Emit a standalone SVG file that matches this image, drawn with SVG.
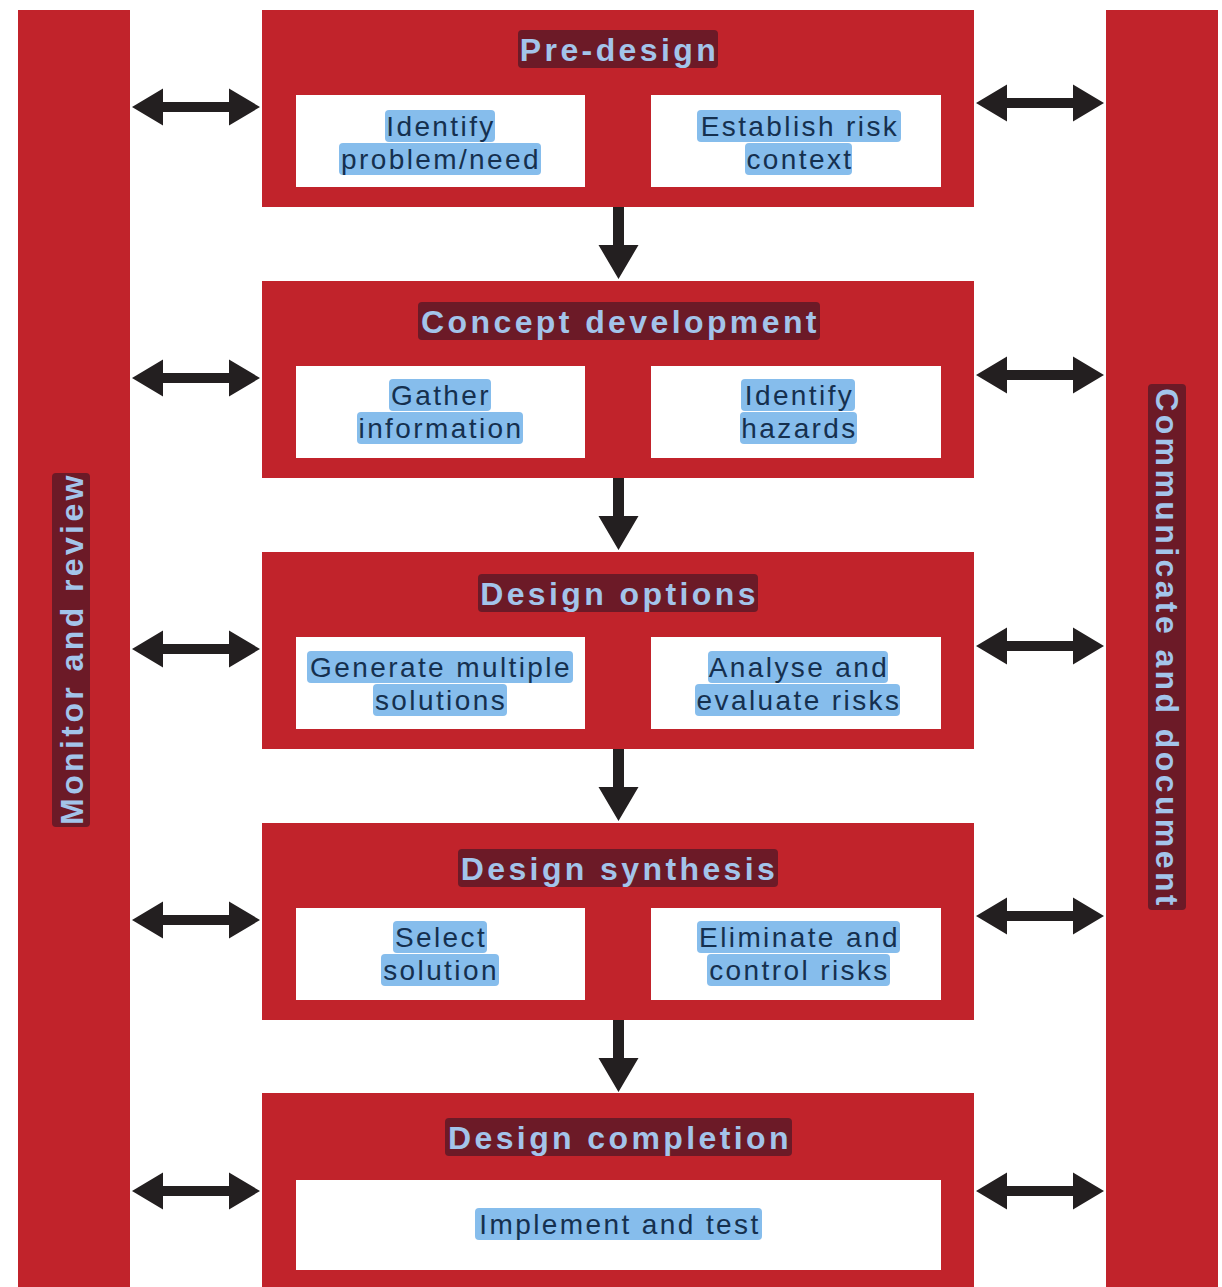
<svg xmlns="http://www.w3.org/2000/svg" width="1222" height="1287" viewBox="0 0 1222 1287">
<defs>
<style>
.red{fill:#c1232b}
.box{fill:#ffffff}
.thl{fill:#6c1a27}
.shl{fill:#86bdec}
.ttl{font-family:"Liberation Sans",Arial,sans-serif;font-weight:bold;font-size:32px;letter-spacing:3.4px;fill:#a3c4ea;text-anchor:middle}
.sub{font-family:"Liberation Sans",Arial,sans-serif;font-size:28px;letter-spacing:2.4px;fill:#15304f;text-anchor:middle}
.arr{fill:#231f20}
</style>
<path id="harr" d="M0,0 L31,-18.5 L31,-5 L97,-5 L97,-18.5 L128,0 L97,18.5 L97,5 L31,5 L31,18.5 Z"/>
<path id="varr" d="M-5.5,0 L5.5,0 L5.5,38 L20,38 L0,72 L-20,38 L-5.5,38 Z"/>
</defs>
<rect width="1222" height="1287" fill="#ffffff"/>

<g id="monitor-review">
<rect class="red" x="18" y="10" width="112" height="1277"/>
<g transform="translate(71,650) rotate(-90)">
<rect class="thl" x="-177" y="-19" width="354" height="38" rx="4"/>
<text class="ttl" x="1.5" y="11.5">Monitor and review</text>
</g>
</g>

<g id="communicate-document">
<rect class="red" x="1106" y="10" width="112" height="1277"/>
<g transform="translate(1167,647) rotate(90)">
<rect class="thl" x="-263" y="-19" width="526" height="38" rx="4"/>
<text class="ttl" x="1.5" y="11.5">Communicate and document</text>
</g>
</g>

<g id="pre-design">
<rect class="red" x="262" y="10" width="712" height="197"/>
<rect class="thl" x="518" y="30" width="200" height="38" rx="4"/>
<text class="ttl" x="619.5" y="60.5">Pre-design</text>
<rect class="box" x="296" y="95" width="289" height="92"/>
<rect class="box" x="651" y="95" width="290" height="92"/>
<rect class="shl" x="385" y="110" width="110" height="32" rx="4"/>
<rect class="shl" x="339" y="143" width="202" height="32" rx="4"/>
<text class="sub" x="441" y="136">Identify</text>
<text class="sub" x="441" y="169">problem/need</text>
<rect class="shl" x="697" y="110" width="204" height="32" rx="4"/>
<rect class="shl" x="745" y="143" width="107" height="32" rx="4"/>
<text class="sub" x="800" y="136">Establish risk</text>
<text class="sub" x="800" y="169">context</text>
</g>

<g id="concept-development">
<rect class="red" x="262" y="281" width="712" height="197"/>
<rect class="thl" x="418" y="302" width="402" height="38" rx="4"/>
<text class="ttl" x="620.5" y="332.5">Concept development</text>
<rect class="box" x="296" y="366" width="289" height="92"/>
<rect class="box" x="651" y="366" width="290" height="92"/>
<rect class="shl" x="389" y="379" width="102" height="32" rx="4"/>
<rect class="shl" x="357" y="412" width="166" height="32" rx="4"/>
<text class="sub" x="441" y="405">Gather</text>
<text class="sub" x="441" y="438">information</text>
<rect class="shl" x="741" y="379" width="114" height="32" rx="4"/>
<rect class="shl" x="740" y="412" width="117" height="32" rx="4"/>
<text class="sub" x="799.5" y="405">Identify</text>
<text class="sub" x="799.5" y="438">hazards</text>
</g>

<g id="design-options">
<rect class="red" x="262" y="552" width="712" height="197"/>
<rect class="thl" x="478" y="574" width="280" height="38" rx="4"/>
<text class="ttl" x="619.5" y="604.5">Design options</text>
<rect class="box" x="296" y="637" width="289" height="92"/>
<rect class="box" x="651" y="637" width="290" height="92"/>
<rect class="shl" x="307" y="651" width="266" height="32" rx="4"/>
<rect class="shl" x="373" y="684" width="134" height="32" rx="4"/>
<text class="sub" x="441" y="677">Generate multiple</text>
<text class="sub" x="441" y="710">solutions</text>
<rect class="shl" x="708" y="651" width="180" height="32" rx="4"/>
<rect class="shl" x="695" y="684" width="205" height="32" rx="4"/>
<text class="sub" x="799" y="677">Analyse and</text>
<text class="sub" x="799" y="710">evaluate risks</text>
</g>

<g id="design-synthesis">
<rect class="red" x="262" y="823" width="712" height="197"/>
<rect class="thl" x="458" y="849" width="320" height="38" rx="4"/>
<text class="ttl" x="619.5" y="879.5">Design synthesis</text>
<rect class="box" x="296" y="908" width="289" height="92"/>
<rect class="box" x="651" y="908" width="290" height="92"/>
<rect class="shl" x="393" y="921" width="94" height="32" rx="4"/>
<rect class="shl" x="381" y="954" width="118" height="32" rx="4"/>
<text class="sub" x="441" y="947">Select</text>
<text class="sub" x="441" y="980">solution</text>
<rect class="shl" x="697" y="921" width="203" height="32" rx="4"/>
<rect class="shl" x="707" y="954" width="183" height="32" rx="4"/>
<text class="sub" x="799.5" y="947">Eliminate and</text>
<text class="sub" x="799.5" y="980">control risks</text>
</g>

<g id="design-completion">
<rect class="red" x="262" y="1093" width="712" height="194"/>
<rect class="thl" x="445" y="1118" width="347" height="38" rx="4"/>
<text class="ttl" x="620" y="1148.5">Design completion</text>
<rect class="box" x="296" y="1180" width="645" height="90"/>
<rect class="shl" x="475" y="1208" width="287" height="32" rx="4"/>
<text class="sub" x="620" y="1234">Implement and test</text>
</g>

<g id="connectors" class="arr">
<use href="#varr" x="618.5" y="207"/>
<use href="#varr" x="618.5" y="478"/>
<use href="#varr" x="618.5" y="749"/>
<use href="#varr" x="618.5" y="1020"/>
<use href="#harr" x="132" y="107"/>
<use href="#harr" x="132" y="378"/>
<use href="#harr" x="132" y="649"/>
<use href="#harr" x="132" y="920"/>
<use href="#harr" x="132" y="1191"/>
<use href="#harr" x="976" y="103"/>
<use href="#harr" x="976" y="375"/>
<use href="#harr" x="976" y="646"/>
<use href="#harr" x="976" y="916"/>
<use href="#harr" x="976" y="1191"/>
</g>
</svg>
